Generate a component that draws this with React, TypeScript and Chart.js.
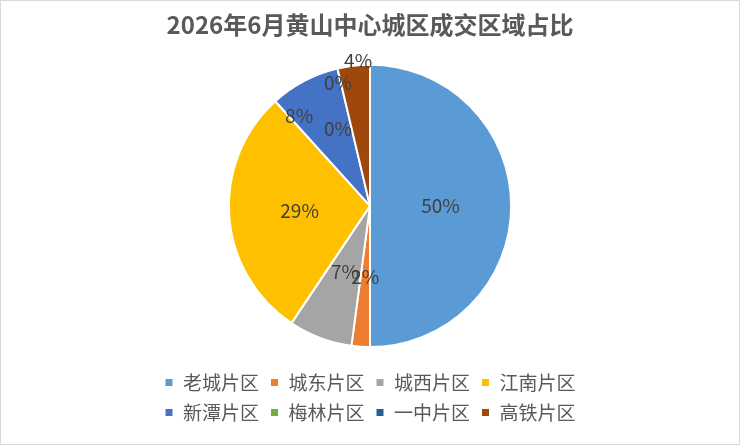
import React, { useEffect, useRef } from "react";
import { Chart, registerables } from "chart.js";

Chart.register(...registerables);

const titleText = "2026年6月黄山中心城区成交区域占比";
const categories = ["老城片区", "城东片区", "城西片区", "江南片区", "新潭片区", "梅林片区", "一中片区", "高铁片区"];
const shares = [50.0, 2.1, 7.3, 28.9, 8.0, 0, 0, 3.7];
const sliceColors = ["#5B9BD5", "#ED7D31", "#A5A5A5", "#FFC000", "#4472C4", "#70AD47", "#255E91", "#9E480E"];
// label placement: [fraction of radius, angle shift in degrees from slice middle]
const labelRadius = [0.5, 0.5, 0.5, 0.5, 0.81, 0.9, 0.59, 1.035];
const labelAngleShift = [0, 0, 0, 0, -10.6, -1.3, -9.3, 2];

const FONT = '"Noto Sans CJK SC", "Noto Sans", sans-serif';

const labelPlugin = {
  id: "sliceLabels",
  afterDatasetsDraw(chart: any) {
    const ctx = chart.ctx;
    const meta = chart.getDatasetMeta(0);
    const data = chart.data.datasets[0].data as number[];
    const total = data.reduce((a, b) => a + b, 0);
    ctx.save();
    ctx.font = `19px ${FONT}`;
    ctx.fillStyle = "#404040";
    ctx.textAlign = "center";
    ctx.textBaseline = "middle";
    meta.data.forEach((arc: any, i: number) => {
      const p = arc.getProps(["x", "y", "startAngle", "endAngle", "outerRadius"], true);
      const mid = (p.startAngle + p.endAngle) / 2 + (labelAngleShift[i] * Math.PI) / 180;
      const r = p.outerRadius * labelRadius[i];
      const x = p.x + Math.cos(mid) * r;
      const y = p.y + Math.sin(mid) * r;
      const pct = Math.round((data[i] / total) * 100);
      ctx.fillText(`${pct}%`, x, y);
    });
    ctx.restore();
  },
};

export default function App() {
  const ref = useRef<HTMLCanvasElement>(null);
  useEffect(() => {
    if (!ref.current) return;
    const chart = new Chart(ref.current, {
      type: "pie",
      data: {
        labels: categories,
        datasets: [
          {
            data: shares,
            backgroundColor: sliceColors,
            borderColor: "#ffffff",
            borderWidth: 2,
            radius: "91%",
          } as any,
        ],
      },
      options: {
        animation: false,
        responsive: true,
        maintainAspectRatio: false,
        layout: { padding: { left: 145, right: 145, top: 0, bottom: 12 } },
        plugins: {
          title: {
            display: true,
            text: titleText,
            color: "#595959",
            font: { family: FONT, size: 24, weight: "bold" },
            padding: { top: 9, bottom: 11 },
          },
          legend: {
            position: "bottom",
            labels: {
              boxWidth: 9,
              boxHeight: 9,
              padding: 11,
              color: "#595959",
              font: { family: FONT, size: 19 },
            },
          },
          tooltip: { enabled: false },
        },
      },
      plugins: [labelPlugin],
    });
    return () => chart.destroy();
  }, []);
  return (
    <div
      style={{
        position: "fixed",
        left: 0,
        top: 0,
        width: 740,
        height: 445,
        boxSizing: "border-box",
        border: "1px solid #d9d9d9",
        background: "#ffffff",
      }}
    >
      <canvas ref={ref} />
    </div>
  );
}
